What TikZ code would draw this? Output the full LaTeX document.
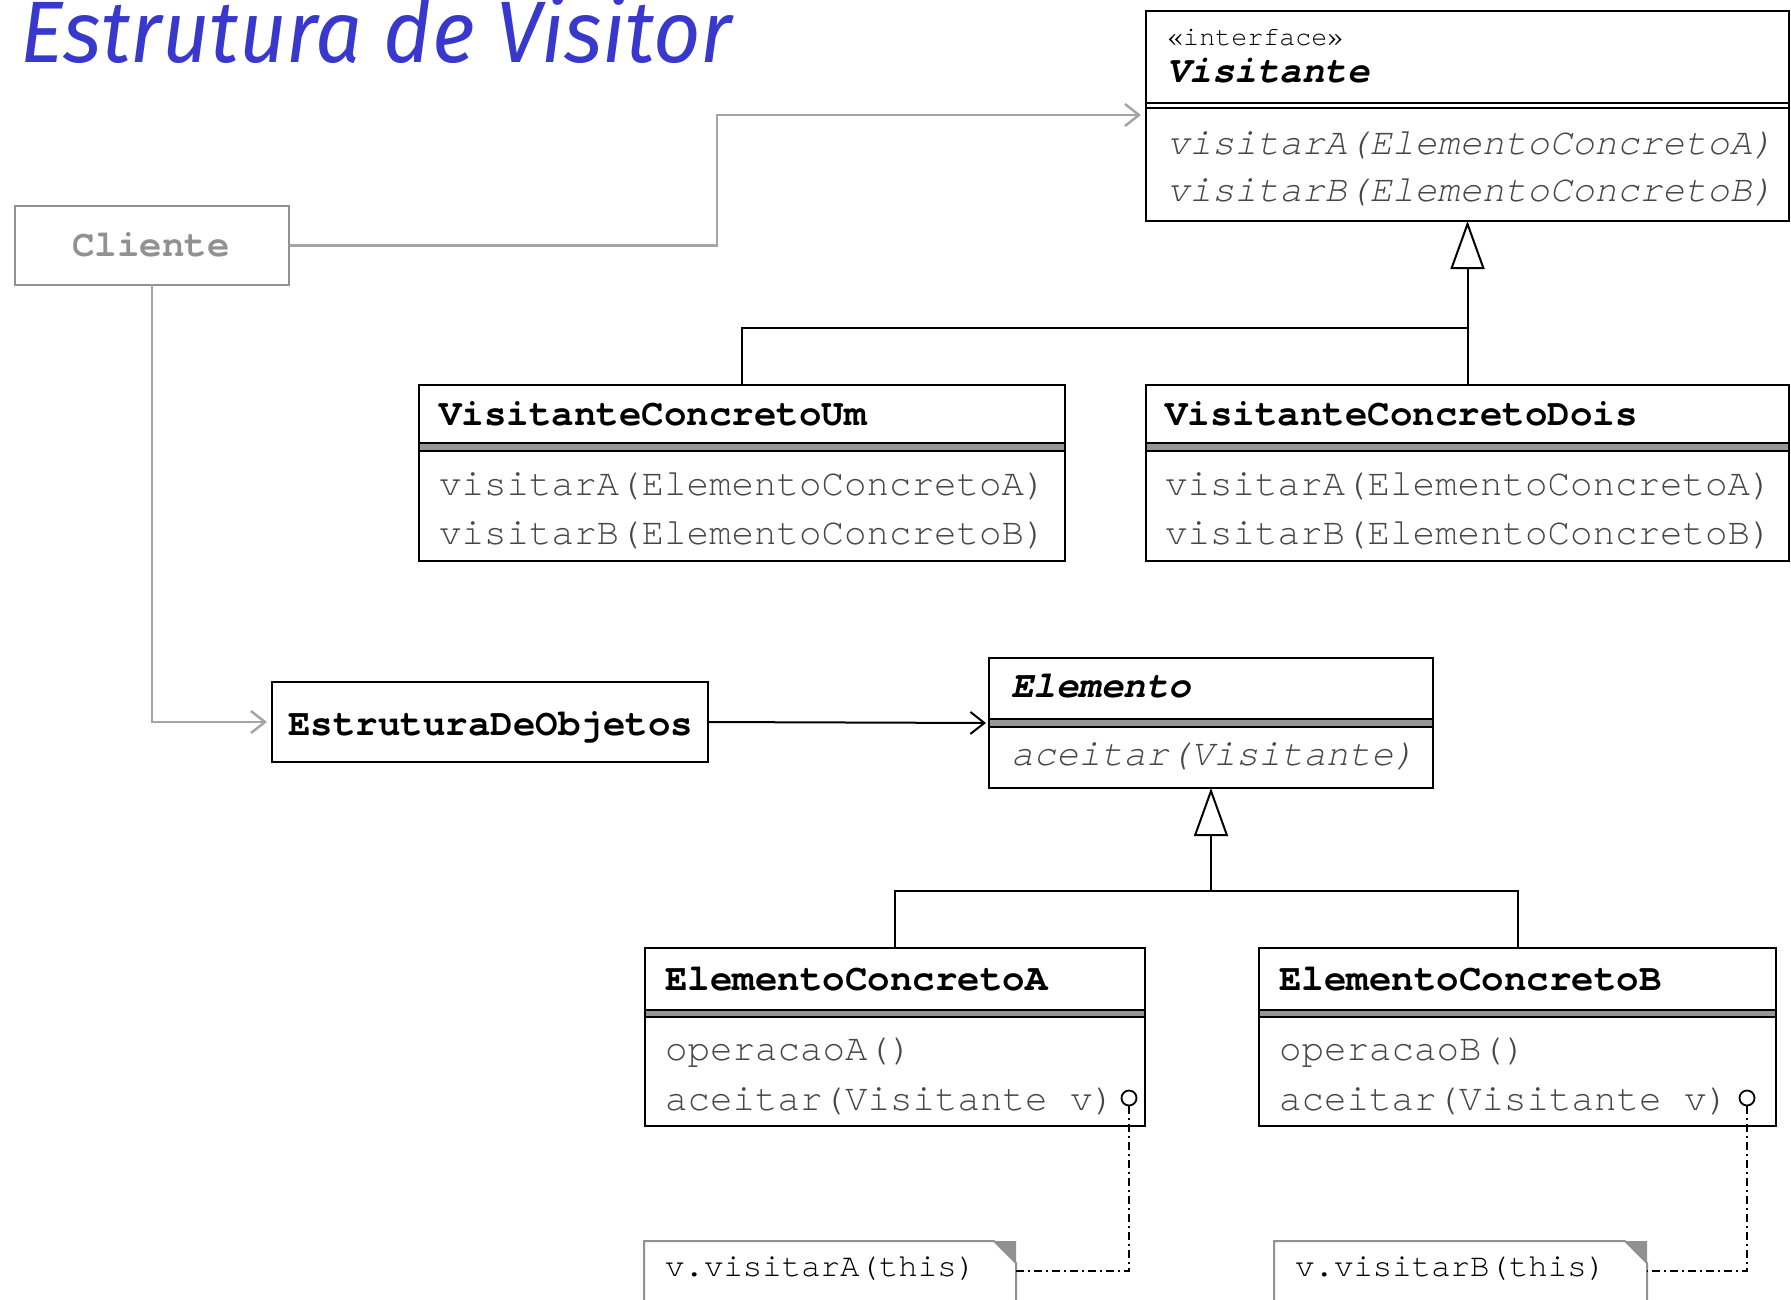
\documentclass[tikz,border=0pt]{standalone}
\usepackage{fontspec}
\usepackage{graphicx}
\setmonofont{TeX Gyre Cursor}
\newfontfamily\titlefont{Fira Sans}
\usetikzlibrary{arrows.meta}
\definecolor{titleblue}{RGB}{56,56,204}
\definecolor{methgray}{RGB}{70,70,70}
\definecolor{linegray}{RGB}{165,165,165}
\definecolor{boxgray}{RGB}{145,145,145}
\definecolor{bandgray}{RGB}{150,150,150}
\begin{document}
\begin{tikzpicture}[x=1pt,y=-1pt,
  box/.style={draw, line width=2pt, rectangle, inner sep=0pt, outer sep=0pt, anchor=north west},
  cname/.style={anchor=base west, inner sep=0pt, font=\fontsize{37.5}{44}\selectfont\ttfamily\bfseries},
  cnamei/.style={anchor=base west, inner sep=0pt, font=\fontsize{37.5}{44}\selectfont\ttfamily\bfseries\itshape},
  meth/.style={anchor=base west, inner sep=0pt, text=methgray, font=\fontsize{37.5}{44}\selectfont\ttfamily},
  methi/.style={anchor=base west, inner sep=0pt, text=methgray, font=\fontsize{37.5}{44}\selectfont\ttfamily\itshape},
  stereo/.style={anchor=base west, inner sep=0pt, font=\fontsize{26.7}{30}\selectfont\ttfamily},
  notetext/.style={anchor=base west, inner sep=0pt, font=\fontsize{32.4}{36}\selectfont\ttfamily},
  band/.style={line width=1.5pt, fill=bandgray},
  conn/.style={line width=2pt},
  graycon/.style={line width=2.5pt, draw=linegray, -{Straight Barb[length=14pt,width=22pt]}},
  inh/.style={line width=2pt, -{Triangle[open,length=48pt,width=34pt]}},
  dashdot/.style={line width=1.5pt, dash pattern=on 8pt off 4pt on 2pt off 4pt},
  port/.style={circle, draw, line width=1.8pt, fill=white, inner sep=0pt, minimum size=15pt},
  notebox/.style={rectangle, draw=none, inner sep=0pt, outer sep=0pt, anchor=north west}
]
\useasboundingbox (0,0) rectangle (1791,1299);
\clip (0,0) rectangle (1791,1299);

% title
\node[anchor=base west, inner sep=0pt, text=titleblue] (title) at (20,62)
  {\resizebox{712pt}{68pt}{\titlefont\itshape Estrutura de Visitor}};

% Visitante
\node[box, minimum width=643pt, minimum height=210pt] (vis) at (1146,11) {};
\draw[line width=1.5pt] ([yshift=-92pt]vis.north west) -- ([yshift=-92pt]vis.north east);
\draw[line width=1.5pt] ([yshift=-97pt]vis.north west) -- ([yshift=-97pt]vis.north east);
\node[stereo] (visst) at (1167,45) {«interface»};
\node[cnamei] (visnm) at (1167,82) {Visitante};
\node[methi] (vism1) at (1167,154) {visitarA(ElementoConcretoA)};
\node[methi] (vism2) at (1167,201) {visitarB(ElementoConcretoB)};

% VisitanteConcretoUm
\node[box, minimum width=646pt, minimum height=176pt] (vcu) at (419,385) {};
\draw[band] ([yshift=-58pt]vcu.north west) rectangle ([yshift=-66pt]vcu.north east);
\node[cname] (vcunm) at (439,425) {VisitanteConcretoUm};
\node[meth] (vcum1) at (439,495) {visitarA(ElementoConcretoA)};
\node[meth] (vcum2) at (439,544) {visitarB(ElementoConcretoB)};

% VisitanteConcretoDois
\node[box, minimum width=643pt, minimum height=176pt] (vcd) at (1146,385) {};
\draw[band] ([yshift=-58pt]vcd.north west) rectangle ([yshift=-66pt]vcd.north east);
\node[cname] (vcdnm) at (1165,425) {VisitanteConcretoDois};
\node[meth] (vcdm1) at (1165,495) {visitarA(ElementoConcretoA)};
\node[meth] (vcdm2) at (1165,544) {visitarB(ElementoConcretoB)};

% Cliente
\node[box, draw=boxgray, minimum width=274pt, minimum height=79pt] (cli) at (15,206) {};
\node[anchor=base, inner sep=0pt, text=boxgray, font=\fontsize{37.5}{44}\selectfont\ttfamily\bfseries] (clinm) at (151,256) {Cliente};

% EstruturaDeObjetos
\node[box, minimum width=436pt, minimum height=80pt] (est) at (272,682) {};
\node[cname] (estnm) at (288,735) {EstruturaDeObjetos};

% Elemento
\node[box, minimum width=444pt, minimum height=130pt] (elem) at (989,658) {};
\draw[band] ([yshift=-61pt]elem.north west) rectangle ([yshift=-69pt]elem.north east);
\node[cnamei] (elemnm) at (1011,697) {Elemento};
\node[methi] (elemm1) at (1011,765) {aceitar(Visitante)};

% ElementoConcretoA
\node[box, minimum width=500pt, minimum height=178pt] (eca) at (645,948) {};
\draw[band] ([yshift=-62pt]eca.north west) rectangle ([yshift=-69pt]eca.north east);
\node[cname] (ecanm) at (665,990) {ElementoConcretoA};
\node[meth] (ecam1) at (665,1060) {operacaoA()};
\node[meth] (ecam2) at (665,1110) {aceitar(Visitante v)};
\node[port] (pa) at (1129,1098) {};

% ElementoConcretoB
\node[box, minimum width=517pt, minimum height=178pt] (ecb) at (1259,948) {};
\draw[band] ([yshift=-62pt]ecb.north west) rectangle ([yshift=-69pt]ecb.north east);
\node[cname] (ecbnm) at (1279,990) {ElementoConcretoB};
\node[meth] (ecbm1) at (1279,1060) {operacaoB()};
\node[meth] (ecbm2) at (1279,1110) {aceitar(Visitante v)};
\node[port] (pb) at (1747,1098) {};

% notes
\node[notebox, minimum width=372pt, minimum height=120pt] (na) at (644,1241) {};
\draw[line width=2pt, draw=boxgray] (na.south west) -- (na.north west) -- ([xshift=-22pt]na.north east) -- ([yshift=-22pt]na.north east) -- (na.south east);
\fill[boxgray] ([xshift=-22pt]na.north east) -- (na.north east) -- ([yshift=-22pt]na.north east) -- cycle;
\node[notetext] (natx) at (665,1276) {v.visitarA(this)};

\node[notebox, minimum width=373pt, minimum height=120pt] (nb) at (1274,1241) {};
\draw[line width=2pt, draw=boxgray] (nb.south west) -- (nb.north west) -- ([xshift=-22pt]nb.north east) -- ([yshift=-22pt]nb.north east) -- (nb.south east);
\fill[boxgray] ([xshift=-22pt]nb.north east) -- (nb.north east) -- ([yshift=-22pt]nb.north east) -- cycle;
\node[notetext] (nbtx) at (1295,1276) {v.visitarB(this)};

% connectors
\coordinate (c1) at (717,115);
\draw[graycon, shorten >=5pt] (cli.east) -| (c1) -- (c1 -| vis.west);
\draw[graycon, shorten >=5pt] (cli.south) |- (est.west);
\draw[conn, -{Straight Barb[length=14pt,width=22pt]}, shorten >=3pt] (est.east) -- (elem.west);

\coordinate (j1) at ([yshift=57pt]vcd.north);
\draw[inh] (vcd.north) -- (vis.south);
\draw[conn] (vcu.north) |- (j1);

\coordinate (j2) at ([yshift=-103pt]elem.south);
\draw[inh] (j2) -- (elem.south);
\draw[conn] (eca.north) |- (j2) -| (ecb.north);

\coordinate (ka) at (1129,1271);
\coordinate (kb) at (1747,1271);
\draw[dashdot] (pa.south) -- (ka) -- (ka -| na.east);
\draw[dashdot] (pb.south) -- (kb) -- (kb -| nb.east);
\end{tikzpicture}
\end{document}
